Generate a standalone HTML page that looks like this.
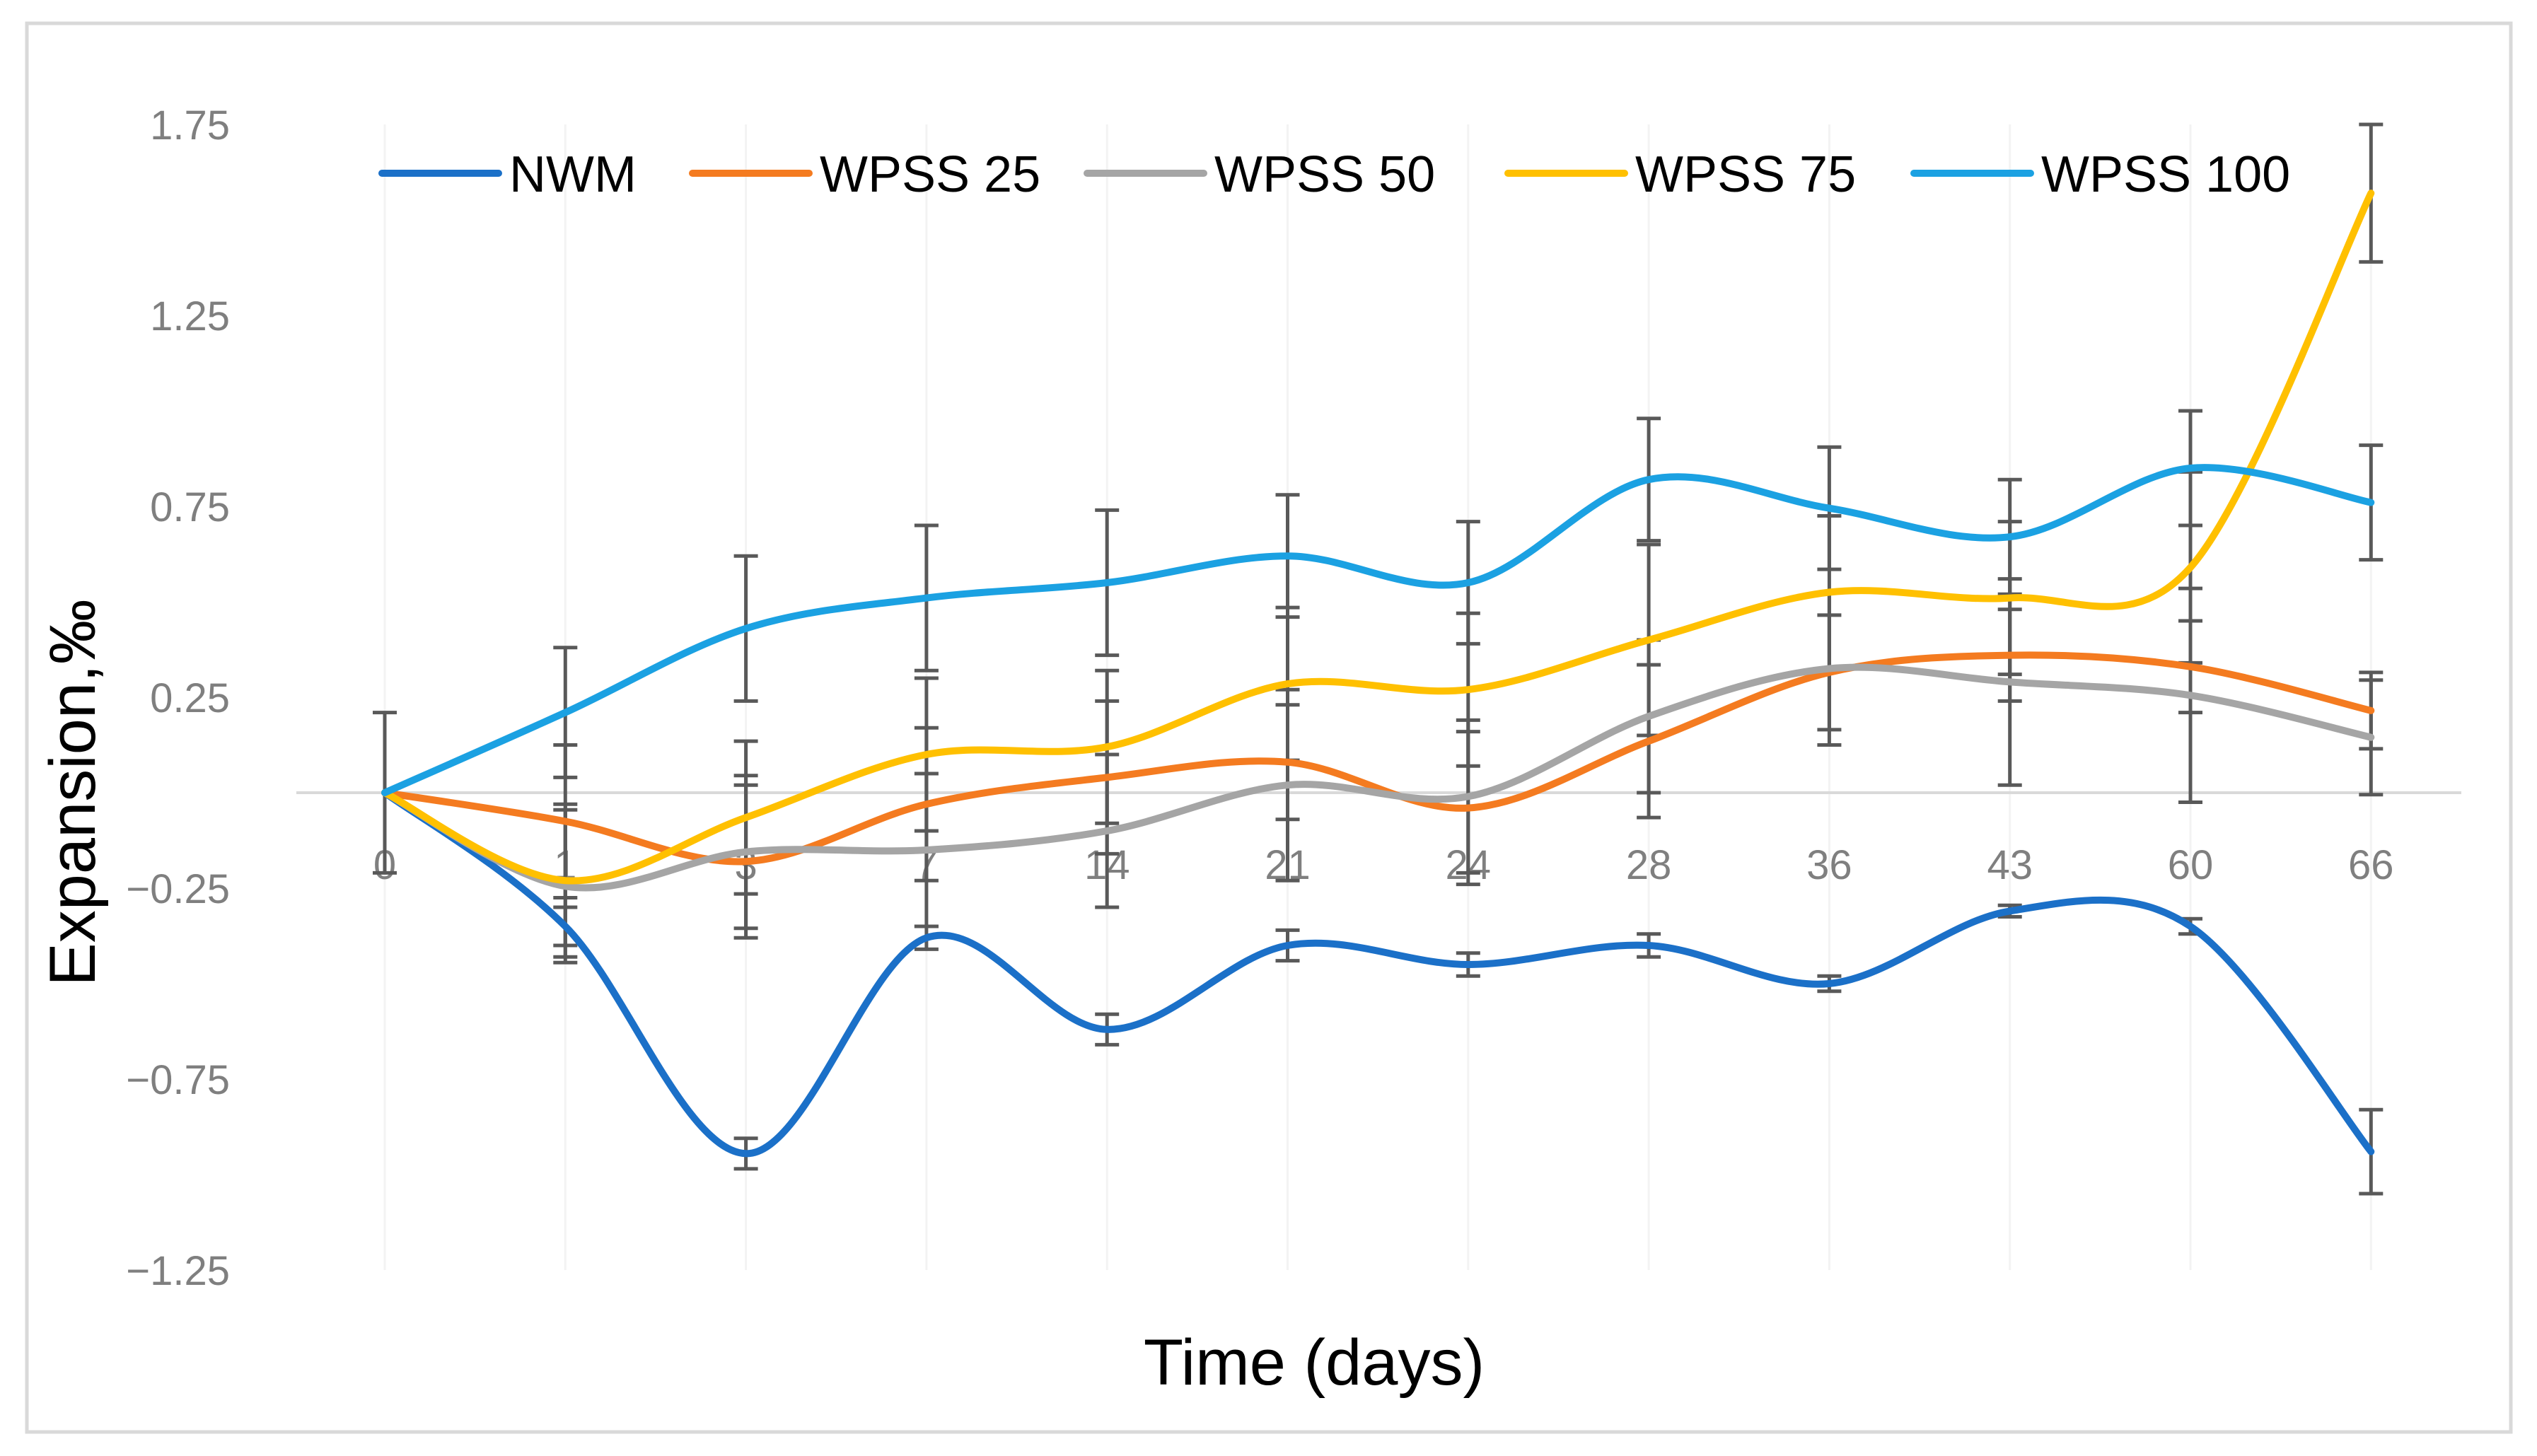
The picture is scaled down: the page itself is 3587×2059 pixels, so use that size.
<!DOCTYPE html>
<html><head><meta charset="utf-8"><style>
html,body{margin:0;padding:0;background:#fff;}
svg{display:block;font-family:"Liberation Sans",Arial,sans-serif;}
</style></head><body>
<svg id="chart" width="3587" height="2059" viewBox="0 0 3587 2059" xmlns="http://www.w3.org/2000/svg">
<rect x="38" y="33" width="3512" height="1992" fill="#fff" stroke="#d9d9d9" stroke-width="5"/>
<g id="grid"></g><g id="ylabels"></g><g id="xlabels"></g><g id="errs"></g><g id="lines"></g><g id="legend"></g>
<text transform="translate(134,1121) rotate(-90)" text-anchor="middle" font-size="92" fill="#000">Expansion,‰</text>
<text x="1858" y="1958" text-anchor="middle" font-size="92" fill="#000">Time (days)</text>
</svg>
<script>
const categories=["0","1","3","7","14","21","24","28","36","43","60","66"];
const yTicks=[1.75,1.25,0.75,0.25,-0.25,-0.75,-1.25];
const seriesNames=["NWM","WPSS 25","WPSS 50","WPSS 75","WPSS 100"];
const seriesColors=["#1b70c8","#f47b20","#a5a5a5","#ffc000","#1ba1e2"];
const nwm=[0,-0.35,-0.945,-0.38,-0.62,-0.40,-0.45,-0.40,-0.50,-0.31,-0.35,-0.94];
const wpss25=[0,-0.075,-0.18,-0.03,0.04,0.08,-0.04,0.135,0.315,0.36,0.33,0.215];
const wpss50=[0,-0.245,-0.155,-0.15,-0.10,0.02,-0.01,0.20,0.325,0.29,0.255,0.145];
const wpss75=[0,-0.23,-0.065,0.10,0.12,0.285,0.27,0.40,0.525,0.51,0.59,1.57];
const wpss100=[0,0.21,0.43,0.51,0.55,0.62,0.55,0.82,0.745,0.67,0.85,0.76];
const errNwm=[0.21,0.05,0.04,0.03,0.04,0.04,0.03,0.03,0.02,0.015,0.02,0.11];
const err25=[0,0.2,0.2,0.2,0.2,0.15,0.2,0.2,0.15,0.12,0.12,0.1];
const err50=[0,0.2,0.2,0.2,0.2,0.25,0.2,0.2,0.2,0.27,0.28,0.15];
const err75=[0,0.2,0.2,0.2,0.2,0.2,0.2,0.25,0.2,0.2,0.25,0.18];
const err100=[0,0.17,0.19,0.19,0.19,0.16,0.16,0.16,0.16,0.15,0.15,0.15];
const series=[nwm,wpss25,wpss50,wpss75,wpss100];
const errs=[errNwm,err25,err50,err75,err100];
const NS="http://www.w3.org/2000/svg";
const X0=544,DX=255.3,Y0=1121,PU=540;
function xs(i){return X0+i*DX;}
function ys(v){return Y0-v*PU;}
function mk(t,a,p){const e=document.createElementNS(NS,t);for(const k in a)e.setAttribute(k,a[k]);p.appendChild(e);return e;}
const grid=document.getElementById('grid');
categories.forEach((c,i)=>{const l=mk('line',{x1:xs(i),x2:xs(i),y1:ys(1.75),y2:ys(-1.25),stroke:'#f3f3f3','stroke-width':3},grid);

});
const zl=mk('line',{x1:419,x2:3480,y1:ys(0),y2:ys(0),stroke:'#d9d9d9','stroke-width':4},grid);


const yl=document.getElementById('ylabels');
yTicks.forEach(v=>{const t=mk('text',{x:325,y:ys(v)+21,'text-anchor':'end','font-size':58,fill:'#7f7f7f'},yl);t.textContent=(v<0?'−':'')+Math.abs(v).toFixed(2);

});
const xl=document.getElementById('xlabels');
categories.forEach((c,i)=>{const t=mk('text',{x:xs(i),y:1243,'text-anchor':'middle','font-size':58,fill:'#7f7f7f'},xl);t.textContent=c;

});
const eg=document.getElementById('errs');
series.forEach((s,k)=>s.forEach((v,i)=>{const e=errs[k][i];if(!e)return;const x=xs(i),a=ys(v+e),b=ys(v-e);
const g=mk('g',{stroke:'#595959','stroke-width':5},eg);


mk('line',{x1:x,x2:x,y1:a,y2:b},g);mk('line',{x1:x-17,x2:x+17,y1:a,y2:a},g);mk('line',{x1:x-17,x2:x+17,y1:b,y2:b},g);}));
function smooth(pts){let d='M'+pts[0][0]+','+pts[0][1];for(let i=0;i<pts.length-1;i++){const p0=pts[i-1]||pts[i],p1=pts[i],p2=pts[i+1],p3=pts[i+2]||p2;
d+=` C${p1[0]+(p2[0]-p0[0])/6},${p1[1]+(p2[1]-p0[1])/6} ${p2[0]-(p3[0]-p1[0])/6},${p2[1]-(p3[1]-p1[1])/6} ${p2[0]},${p2[1]}`;}return d;}
const lg=document.getElementById('lines');
series.forEach((s,k)=>{const p=mk('path',{d:smooth(s.map((v,i)=>[xs(i),ys(v)])),fill:'none',stroke:seriesColors[k],'stroke-width':10,'stroke-linecap':'round'},lg);

});
const leg=document.getElementById('legend');
const legX=[540,979,1537,2132,2706];
seriesNames.forEach((n,k)=>{const g=mk('g',{},leg);


mk('line',{x1:legX[k],x2:legX[k]+165,y1:245,y2:245,stroke:seriesColors[k],'stroke-width':10,'stroke-linecap':'round'},g);
const t=mk('text',{x:legX[k]+180,y:271,'font-size':72,fill:'#000'},g);t.textContent=n;});
</script>
</body></html>
